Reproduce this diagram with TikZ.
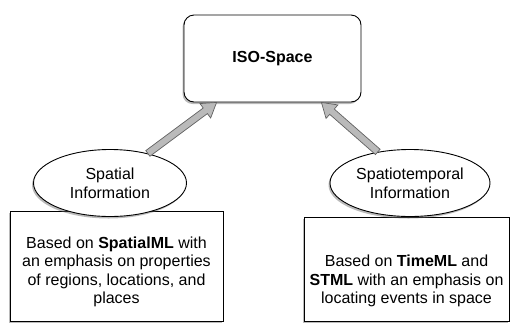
\documentclass[tikz,border=0pt]{standalone}
\usepackage{fontspec}
\setmainfont{Liberation Sans}
\usetikzlibrary{shapes.geometric,shadows,calc}
\tikzset{
  shad/.style={drop shadow={shadow xshift=-1.5pt,shadow yshift=-2pt,opacity=0.45,fill=black!60}},
  topbox/.style={draw=black,line width=0.9pt,fill=white,rounded corners=10pt,minimum width=177pt,minimum height=87pt,font=\fontsize{16}{19}\selectfont\bfseries,shad},
  infobox/.style={draw=black,line width=0.9pt,fill=white,align=center,inner sep=0pt,font=\fontsize{16}{18.5}\selectfont,shad},
  oval/.style={ellipse,draw=black,line width=0.9pt,fill=white,inner sep=0pt,minimum height=67pt,align=center,font=\fontsize{16}{19}\selectfont,shad},
  fatarrow/.style={fill=black!27,draw=black!62,line width=0.7pt,line join=miter}
}
\newcommand{\fatarrowdraw}[2]{%
  \coordinate (hb) at ($(#2)!14pt!(#1)$);
  \draw[fatarrow] ($(#1)!3.5pt!90:(#2)$) -- ($(hb)!3.5pt!-90:(#1)$) -- ($(hb)!9pt!-90:(#1)$) -- (#2)
    -- ($(hb)!9pt!90:(#1)$) -- ($(hb)!3.5pt!90:(#1)$) -- ($(#1)!3.5pt!-90:(#2)$) -- cycle;}
\begin{document}
\begin{tikzpicture}[x=1pt,y=-1pt]
\useasboundingbox (0,0) rectangle (513,325);
\node[topbox] (iso) at (272.5,58.5) {ISO-Space};
\node[infobox,minimum width=213pt,minimum height=110pt] (lb) at (116.5,266)
  {\rule{0pt}{23.5pt}Based on \textbf{SpatialML} with\\an emphasis on properties\\of regions, locations, and\\places};
\node[infobox,minimum width=205pt,minimum height=104pt] (rb) at (406.5,269)
  {\rule{0pt}{35.5pt}Based on \textbf{TimeML} and\\\textbf{STML} with an emphasis on\\locating events in space};
\node[oval,minimum width=153pt] (le) at (110,183) {Spatial\\Information};
\node[oval,minimum width=160pt] (re) at (410,183) {Spatiotemporal\\Information};
\coordinate (la) at (le.38);
\coordinate (lt) at ($(iso.south west)+(33,0)$);
\coordinate (ra) at (re.136);
\coordinate (rt) at ($(iso.south east)+(-40,0)$);
\fatarrowdraw{la}{lt}
\fatarrowdraw{ra}{rt}
\end{tikzpicture}
\end{document}
